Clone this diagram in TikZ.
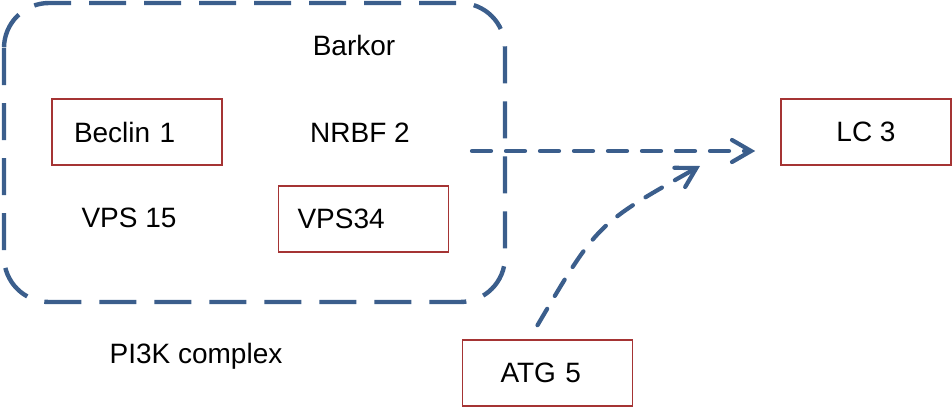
\documentclass[tikz,border=0pt]{standalone}
\usepackage{fontspec}
\setmainfont{Liberation Sans}
\usetikzlibrary{arrows.meta}
\definecolor{dblue}{RGB}{59,94,140}
\definecolor{dred}{RGB}{165,52,52}
\tikzset{
  lbl/.style={font=\fontsize{28}{32}\selectfont, inner sep=0pt},
  redbox/.style={draw=dred, line width=1.6pt, font=\fontsize{28}{32}\selectfont,
    minimum width=170pt, minimum height=66pt, align=left, inner ysep=0pt},
  dashbox/.style={draw=dblue, line width=4.4pt, dash pattern=on 37pt off 18pt, rounded corners=45pt},
  dasharrow/.style={draw=dblue, line width=4.2pt, dash pattern=on 19pt off 15pt,
    -{Straight Barb[length=19pt,width=22pt,line cap=round]}}
}
\begin{document}
\begin{tikzpicture}[x=1pt,y=-1pt]
\useasboundingbox (0,0) rectangle (952,407);
\draw[dashbox] (4,3) rectangle (505,302);
\node[lbl] (barkor) at (354,45) {Barkor};
\node[lbl] (nrbf) at (360,133) {NRBF 2};
\node[lbl] (vps15) at (129,218) {VPS 15};
\node[redbox, inner xsep=22pt, text width=126pt] (beclin) at (137,132) {Beclin 1};
\node[redbox, inner xsep=19pt, text width=132pt] (vps34) at (363.5,219) {VPS34};
\node[redbox, align=center] (lc3) at (866,132) {LC 3};
\node[redbox, inner xsep=38pt, text width=94pt] (atg5) at (547.5,373) {ATG 5};
\node[lbl] (pi3k) at (196,356) {PI3K complex};
\coordinate (hstart) at (472,151);
\coordinate (htip) at ([xshift=-25pt]lc3.west |- hstart);
\coordinate (cstart) at ([xshift=-10pt,yshift=14pt]atg5.north);
\coordinate (ctip) at (700,166);
\draw[dasharrow, line cap=round] (hstart) -- (htip);
\draw[dasharrow, line cap=round] (cstart) .. controls (597,224) .. (ctip);
\end{tikzpicture}
\end{document}
